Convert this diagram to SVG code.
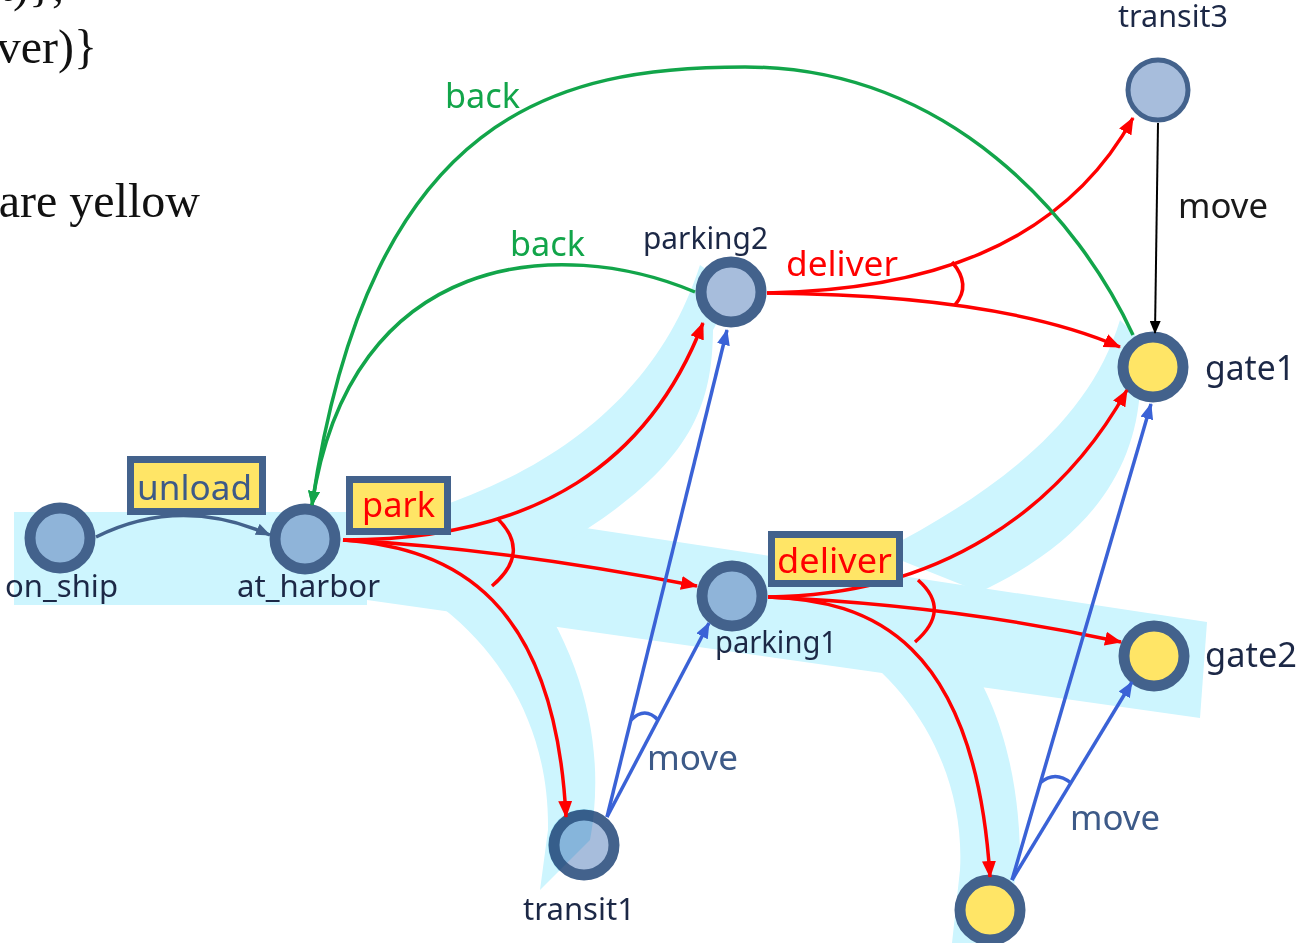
<svg xmlns="http://www.w3.org/2000/svg" width="1307" height="943" viewBox="0 0 1307 943">
<defs>
<style>
.band{fill:#cdf5fe;stroke:none}
.nd{stroke:#43628c;stroke-width:11}
.fb{fill:#8fb4d9}
.fl{fill:#a7bddc}
.fy{fill:#ffe566}
.lbl{font-family:"Noto Sans","Open Sans",sans-serif;font-size:30px;fill:#1c2846}
.el{font-family:"Noto Sans","Open Sans",sans-serif;font-size:34px}
.red{fill:none;stroke:#ff0000;stroke-width:3.5}
.blue{fill:none;stroke:#3a62d6;stroke-width:3.5}
.green{fill:none;stroke:#12a54a;stroke-width:3.5}
.box{fill:#ffe566;stroke:#43628c;stroke-width:7}
.serif{font-family:"Liberation Serif","Times New Roman",serif;font-size:48px;fill:#111}
</style>
<clipPath id="clipT1"><circle cx="584" cy="845" r="36"/></clipPath>
<marker id="aR" markerUnits="userSpaceOnUse" markerWidth="17" markerHeight="14" viewBox="0 0 17 14" refX="16" refY="7" orient="auto"><path d="M0,0 L17,7 L0,14 Z" fill="#ff0000"/></marker>
<marker id="aB" markerUnits="userSpaceOnUse" markerWidth="16" markerHeight="13" viewBox="0 0 16 13" refX="15" refY="6.5" orient="auto"><path d="M0,0 L16,6.5 L0,13 Z" fill="#3a62d6"/></marker>
<marker id="aG" markerUnits="userSpaceOnUse" markerWidth="15" markerHeight="12" viewBox="0 0 15 12" refX="14" refY="6" orient="auto"><path d="M0,0 L15,6 L0,12 Z" fill="#12a54a"/></marker>
<marker id="aK" markerUnits="userSpaceOnUse" markerWidth="13" markerHeight="11" viewBox="0 0 13 11" refX="12" refY="5.5" orient="auto"><path d="M0,0 L13,5.5 L0,11 Z" fill="#000"/></marker>
<marker id="aD" markerUnits="userSpaceOnUse" markerWidth="15" markerHeight="12" viewBox="0 0 15 12" refX="14" refY="6" orient="auto"><path d="M0,0 L15,6 L0,12 Z" fill="#43628c"/></marker>
</defs>
<rect width="1307" height="943" fill="#ffffff"/>

<g id="page-text">
<text class="serif" x="64" y="1" text-anchor="end">rt)},</text>
<text class="serif" x="97" y="63" text-anchor="end">ver)}</text>
<text class="serif" x="200" y="217" text-anchor="end">are yellow</text>
</g>

<g id="bands">
<rect class="band" x="14" y="512" width="353" height="93"/>
<polygon class="band" points="367,495 1207,622 1200,718 367,600"/>
<path class="band" d="M420,513 C560,470 660,390 700,265 L735,290 L713,330 C712,410 690,470 553,550 Z"/>
<path class="band" d="M880,552 C1000,490 1090,420 1120,320 L1150,350 L1140,390 C1135,470 1090,540 980,592 Z"/>
<path class="band" d="M380,570 C470,610 550,700 548,830 L540,890 L590,840 C605,760 590,660 520,570 Z"/>
<path class="band" d="M840,640 C920,690 965,780 960,870 L952,943 L1000,943 L1020,860 C1020,780 1000,700 960,650 Z"/>
</g>

<g id="on_ship"><circle class="nd fb" cx="60" cy="538" r="30"/><text class="lbl" x="5" y="597" textLength="113" lengthAdjust="spacingAndGlyphs">on_ship</text></g>
<g id="at_harbor"><circle class="nd fb" cx="305" cy="539" r="30"/><text class="lbl" x="237" y="597" textLength="143" lengthAdjust="spacingAndGlyphs">at_harbor</text></g>
<g id="parking2"><circle class="nd fl" cx="731" cy="292" r="30"/><text class="lbl" x="643" y="249" textLength="125" lengthAdjust="spacingAndGlyphs">parking2</text></g>
<g id="parking1"><circle class="nd fb" cx="732" cy="596" r="30"/><text class="lbl" x="715" y="653" textLength="122" lengthAdjust="spacingAndGlyphs">parking1</text></g>
<g id="transit1"><circle class="nd fl" cx="584" cy="845" r="30"/>
<path d="M380,570 C470,610 550,700 548,830 L540,890 L590,840 C605,760 590,660 520,570 Z" fill="#cdf5fe" clip-path="url(#clipT1)" style="mix-blend-mode:multiply"/>
<text class="lbl" x="523" y="920" textLength="112" lengthAdjust="spacingAndGlyphs">transit1</text></g>
<g id="transit3"><circle cx="1158" cy="90" r="30" fill="#a7bddc" stroke="#43628c" stroke-width="5"/><text class="lbl" x="1118" y="27" textLength="110" lengthAdjust="spacingAndGlyphs">transit3</text></g>
<g id="gate1"><circle class="nd fy" cx="1153" cy="367" r="30"/><text class="lbl" x="1205" y="380" style="font-size:34px" textLength="90" lengthAdjust="spacingAndGlyphs">gate1</text></g>
<g id="gate2"><circle class="nd fy" cx="1154" cy="656" r="30"/><text class="lbl" x="1205" y="667" style="font-size:34px" textLength="92" lengthAdjust="spacingAndGlyphs">gate2</text></g>
<g id="transit2"><circle class="nd fy" cx="990" cy="910" r="30"/></g>

<g id="connectors">
<path d="M96,537 Q180,495 270,535" fill="none" stroke="#43628c" stroke-width="3.5" marker-end="url(#aD)"/>
<path class="red" d="M343,540 C540,540 650,460 703,323" marker-end="url(#aR)"/>
<path class="red" d="M343,540 Q500,548 697,586" marker-end="url(#aR)"/>
<path class="red" d="M343,540 C455,548 555,600 566,817" marker-end="url(#aR)"/>
<path class="red" d="M497,518 Q532,552 492,586"/>
<path class="red" d="M768,597 C940,595 1060,510 1127,390" marker-end="url(#aR)"/>
<path class="red" d="M768,597 Q950,605 1121,642" marker-end="url(#aR)"/>
<path class="red" d="M768,597 C870,600 975,640 990,877" marker-end="url(#aR)"/>
<path class="red" d="M918,580 Q952,610 915,642"/>
<path class="red" d="M767,293 C920,290 1060,250 1133,118" marker-end="url(#aR)"/>
<path class="red" d="M767,293 Q1000,295 1120,347" marker-end="url(#aR)"/>
<path class="red" d="M952,262 Q972,285 955,305"/>
<path class="blue" d="M607,817 L727,330" marker-end="url(#aB)"/>
<path class="blue" d="M607,817 L709,623" marker-end="url(#aB)"/>
<path class="blue" d="M631,720 Q645,706 658,720"/>
<path class="blue" d="M1012,880 L1151,404" marker-end="url(#aB)"/>
<path class="blue" d="M1012,880 L1132,682" marker-end="url(#aB)"/>
<path class="blue" d="M1040,783 Q1055,770 1071,783"/>
<path d="M1158,123 L1155,333" fill="none" stroke="#000" stroke-width="2" marker-end="url(#aK)"/>
<path class="green" d="M1133,335 C1080,220 950,67 745,67 C560,67 370,110 312,505" marker-end="url(#aG)"/>
<path class="green" d="M695,292 C560,235 350,250 312,505" marker-end="url(#aG)"/>
</g>

<g id="edge-labels">
<rect class="box" x="130.5" y="459.5" width="132" height="52"/>
<text class="el" x="137" y="500" fill="#3d5a88" textLength="115" lengthAdjust="spacingAndGlyphs">unload</text>
<rect class="box" x="349.5" y="479.5" width="98" height="52"/>
<text class="el" x="362" y="517" fill="#ff0000" textLength="73" lengthAdjust="spacingAndGlyphs">park</text>
<rect class="box" x="771.5" y="534.5" width="128" height="49"/>
<text class="el" x="777" y="573" fill="#ff0000" textLength="115" lengthAdjust="spacingAndGlyphs">deliver</text>
<text class="el" x="445" y="108" fill="#12a54a" textLength="75" lengthAdjust="spacingAndGlyphs">back</text>
<text class="el" x="510" y="256" fill="#12a54a" textLength="75" lengthAdjust="spacingAndGlyphs">back</text>
<text class="el" x="786" y="276" fill="#ff0000" textLength="112" lengthAdjust="spacingAndGlyphs">deliver</text>
<text class="el" x="1178" y="218" fill="#1a1a1a" textLength="90" lengthAdjust="spacingAndGlyphs">move</text>
<text class="el" x="647" y="770" fill="#3d5a88" textLength="91" lengthAdjust="spacingAndGlyphs">move</text>
<text class="el" x="1070" y="830" fill="#3d5a88" textLength="90" lengthAdjust="spacingAndGlyphs">move</text>
</g>
</svg>
